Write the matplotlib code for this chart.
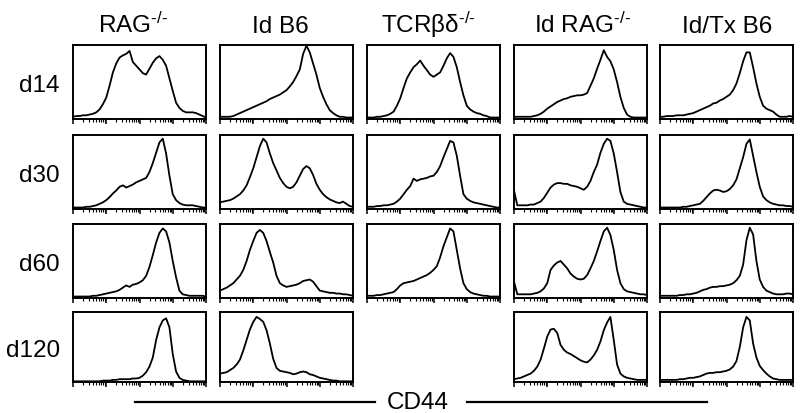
import matplotlib
matplotlib.use("Agg")
import matplotlib.pyplot as plt
from matplotlib.lines import Line2D
from matplotlib.ticker import LogLocator
import numpy as np

plt.rcParams['font.family'] = ['Liberation Sans', 'DejaVu Sans']
plt.rcParams['mathtext.fontset'] = 'custom'
plt.rcParams['mathtext.rm'] = 'Liberation Sans'
plt.rcParams['mathtext.default'] = 'regular'

# === LABELS ===
groups = ['RAG$^{‐/‐}$', 'Id B6', 'TCRβδ$^{‐/‐}$', 'Id RAG$^{‐/‐}$', 'Id/Tx B6']
days = ['d14', 'd30', 'd60', 'd120']
axis_label = 'CD44'

# === HISTOGRAM TRACES (relative counts) ===
rag_d14 = [0.03, 0.04, 0.04, 0.05, 0.05, 0.06, 0.07, 0.09, 0.13, 0.20,
           0.29, 0.45, 0.63, 0.75, 0.83, 0.86, 0.88, 0.92, 0.77, 0.72,
           0.67, 0.62, 0.60, 0.68, 0.76, 0.82, 0.85, 0.80, 0.72, 0.55,
           0.38, 0.22, 0.15, 0.11, 0.09, 0.09, 0.09, 0.08, 0.06, 0.04, 0.02]
idb6_d14 = [0.03, 0.03, 0.03, 0.03, 0.04, 0.06, 0.08, 0.10, 0.12, 0.14,
            0.16, 0.18, 0.20, 0.22, 0.24, 0.27, 0.29, 0.31, 0.33, 0.36,
            0.39, 0.44, 0.50, 0.58, 0.67, 0.88, 0.99, 0.90, 0.75, 0.60,
            0.42, 0.30, 0.20, 0.12, 0.08, 0.05, 0.03, 0.03, 0.02, 0.02, 0.02]
tcr_d14 = [0.02, 0.02, 0.02, 0.03, 0.03, 0.04, 0.05, 0.07, 0.10, 0.18,
           0.28, 0.42, 0.55, 0.63, 0.70, 0.74, 0.79, 0.72, 0.66, 0.60,
           0.57, 0.60, 0.63, 0.72, 0.82, 0.89, 0.84, 0.70, 0.50, 0.32,
           0.18, 0.13, 0.10, 0.08, 0.07, 0.05, 0.04, 0.02, 0.02, 0.02, 0.02]
idrag_d14 = [0.03, 0.03, 0.03, 0.03, 0.03, 0.03, 0.04, 0.05, 0.07, 0.10,
             0.14, 0.17, 0.20, 0.23, 0.25, 0.27, 0.28, 0.30, 0.31, 0.32,
             0.32, 0.33, 0.35, 0.45, 0.55, 0.68, 0.80, 0.93, 0.84, 0.78,
             0.67, 0.50, 0.30, 0.15, 0.06, 0.03, 0.02, 0.02, 0.02, 0.02, 0.02]
idtx_d14 = [0.03, 0.03, 0.04, 0.04, 0.04, 0.05, 0.05, 0.05, 0.06, 0.07,
            0.08, 0.10, 0.12, 0.14, 0.16, 0.18, 0.21, 0.22, 0.25, 0.27,
            0.30, 0.33, 0.39, 0.48, 0.62, 0.78, 0.90, 0.90, 0.70, 0.48,
            0.30, 0.18, 0.14, 0.12, 0.10, 0.06, 0.03, 0.03, 0.03, 0.04, 0.03]

rag_d30 = [0.02, 0.02, 0.02, 0.02, 0.03, 0.03, 0.04, 0.05, 0.07, 0.09,
           0.12, 0.16, 0.21, 0.25, 0.30, 0.32, 0.29, 0.31, 0.33, 0.36,
           0.38, 0.40, 0.42, 0.50, 0.62, 0.76, 0.90, 0.95, 0.75, 0.45,
           0.20, 0.12, 0.08, 0.06, 0.05, 0.05, 0.05, 0.04, 0.03, 0.02, 0.02]
idb6_d30 = [0.09, 0.10, 0.11, 0.12, 0.14, 0.17, 0.20, 0.25, 0.32, 0.43,
            0.55, 0.70, 0.85, 0.95, 0.90, 0.75, 0.62, 0.52, 0.42, 0.35,
            0.30, 0.28, 0.30, 0.36, 0.45, 0.54, 0.58, 0.55, 0.46, 0.34,
            0.26, 0.20, 0.16, 0.13, 0.11, 0.09, 0.08, 0.10, 0.07, 0.04, 0.03]
tcr_d30 = [0.03, 0.03, 0.03, 0.04, 0.04, 0.05, 0.05, 0.06, 0.07, 0.10,
           0.14, 0.20, 0.26, 0.31, 0.41, 0.38, 0.40, 0.41, 0.42, 0.44,
           0.45, 0.50, 0.58, 0.70, 0.81, 0.92, 0.90, 0.72, 0.45, 0.20,
           0.14, 0.11, 0.09, 0.08, 0.07, 0.06, 0.05, 0.04, 0.03, 0.02, 0.02]
idrag_d30 = [0.25, 0.05, 0.05, 0.05, 0.05, 0.06, 0.06, 0.08, 0.10, 0.15,
             0.22, 0.29, 0.33, 0.35, 0.35, 0.34, 0.34, 0.32, 0.31, 0.30,
             0.28, 0.26, 0.30, 0.38, 0.50, 0.60, 0.76, 0.88, 0.95, 0.92,
             0.75, 0.50, 0.23, 0.10, 0.07, 0.06, 0.05, 0.04, 0.03, 0.02, 0.02]
idtx_d30 = [0.02, 0.02, 0.02, 0.02, 0.02, 0.02, 0.02, 0.03, 0.03, 0.04,
            0.05, 0.06, 0.07, 0.11, 0.16, 0.21, 0.25, 0.26, 0.25, 0.23,
            0.24, 0.27, 0.32, 0.40, 0.55, 0.70, 0.88, 0.94, 0.72, 0.50,
            0.30, 0.17, 0.12, 0.09, 0.07, 0.06, 0.05, 0.05, 0.04, 0.04, 0.03]

rag_d60 = [0.02, 0.02, 0.02, 0.02, 0.02, 0.02, 0.03, 0.03, 0.04, 0.05,
           0.06, 0.07, 0.08, 0.09, 0.11, 0.14, 0.17, 0.15, 0.18, 0.19,
           0.21, 0.24, 0.30, 0.42, 0.58, 0.75, 0.88, 0.94, 0.90, 0.75,
           0.50, 0.28, 0.10, 0.05, 0.04, 0.03, 0.03, 0.03, 0.03, 0.03, 0.02]
idb6_d60 = [0.10, 0.12, 0.14, 0.17, 0.20, 0.25, 0.30, 0.38, 0.50, 0.65,
            0.77, 0.88, 0.92, 0.88, 0.77, 0.62, 0.48, 0.30, 0.20, 0.17,
            0.15, 0.16, 0.17, 0.18, 0.20, 0.23, 0.24, 0.25, 0.22, 0.16,
            0.10, 0.09, 0.08, 0.07, 0.07, 0.06, 0.06, 0.05, 0.05, 0.04, 0.03]
tcr_d60 = [0.03, 0.03, 0.03, 0.04, 0.04, 0.05, 0.06, 0.07, 0.08, 0.12,
           0.17, 0.20, 0.21, 0.22, 0.23, 0.25, 0.27, 0.29, 0.31, 0.34,
           0.38, 0.43, 0.55, 0.70, 0.82, 0.94, 0.90, 0.65, 0.40, 0.20,
           0.12, 0.08, 0.06, 0.05, 0.04, 0.03, 0.03, 0.02, 0.02, 0.02, 0.02]
idrag_d60 = [0.22, 0.05, 0.05, 0.05, 0.05, 0.05, 0.06, 0.07, 0.09, 0.13,
             0.20, 0.38, 0.44, 0.48, 0.50, 0.45, 0.40, 0.33, 0.29, 0.26,
             0.25, 0.26, 0.31, 0.40, 0.50, 0.63, 0.77, 0.90, 0.95, 0.85,
             0.65, 0.38, 0.20, 0.12, 0.09, 0.08, 0.07, 0.06, 0.05, 0.05, 0.04]
idtx_d60 = [0.03, 0.03, 0.03, 0.03, 0.03, 0.03, 0.04, 0.04, 0.05, 0.05,
            0.06, 0.07, 0.09, 0.11, 0.12, 0.14, 0.15, 0.15, 0.16, 0.16,
            0.17, 0.18, 0.20, 0.24, 0.30, 0.45, 0.78, 0.95, 0.86, 0.50,
            0.25, 0.15, 0.10, 0.08, 0.06, 0.05, 0.05, 0.05, 0.06, 0.06, 0.05]

rag_d120 = [0.01, 0.01, 0.01, 0.01, 0.01, 0.01, 0.01, 0.01, 0.01, 0.02,
            0.02, 0.02, 0.03, 0.03, 0.04, 0.04, 0.04, 0.04, 0.05, 0.05,
            0.06, 0.09, 0.14, 0.22, 0.35, 0.60, 0.78, 0.88, 0.91, 0.78,
            0.40, 0.15, 0.06, 0.03, 0.02, 0.01, 0.01, 0.01, 0.01, 0.01, 0.01]
idb6_d120 = [0.12, 0.13, 0.14, 0.17, 0.20, 0.25, 0.32, 0.45, 0.60, 0.75,
             0.86, 0.93, 0.90, 0.86, 0.74, 0.55, 0.33, 0.20, 0.16, 0.15,
             0.14, 0.13, 0.11, 0.12, 0.14, 0.15, 0.14, 0.11, 0.10, 0.08,
             0.06, 0.05, 0.04, 0.03, 0.02, 0.02, 0.01, 0.01, 0.01, 0.01, 0.01]
idrag_d120 = [0.04, 0.05, 0.06, 0.08, 0.10, 0.12, 0.16, 0.22, 0.32, 0.48,
              0.65, 0.75, 0.76, 0.70, 0.53, 0.46, 0.42, 0.40, 0.37, 0.34,
              0.31, 0.29, 0.28, 0.32, 0.38, 0.46, 0.58, 0.74, 0.85, 0.93,
              0.60, 0.25, 0.12, 0.08, 0.06, 0.05, 0.04, 0.03, 0.03, 0.03, 0.03]
idtx_d120 = [0.03, 0.03, 0.03, 0.03, 0.03, 0.03, 0.04, 0.04, 0.05, 0.06,
             0.06, 0.07, 0.08, 0.10, 0.12, 0.13, 0.13, 0.14, 0.14, 0.15,
             0.16, 0.18, 0.22, 0.30, 0.50, 0.78, 0.93, 0.88, 0.55, 0.35,
             0.23, 0.17, 0.12, 0.08, 0.05, 0.04, 0.03, 0.03, 0.03, 0.03, 0.03]

traces = [
    [rag_d14, idb6_d14, tcr_d14, idrag_d14, idtx_d14],
    [rag_d30, idb6_d30, tcr_d30, idrag_d30, idtx_d30],
    [rag_d60, idb6_d60, tcr_d60, idrag_d60, idtx_d60],
    [rag_d120, idb6_d120, None, idrag_d120, idtx_d120],
]

# === LAYOUT (pixels on an 800x414 canvas) ===
W, H = 800, 414
fig = plt.figure(figsize=(W / 100, H / 100), dpi=100)
fig.patch.set_facecolor('white')

col_left = [73, 220, 367, 514, 660]
col_w = 133
row_top = [46, 136, 225, 313]
row_h = [74, 74, 74, 70]
header_x = [133, 280, 428, 582, 727]


def fx(px):
    return px / W


def fy(py):
    return 1 - py / H


for r, row in enumerate(traces):
    for c, vals in enumerate(row):
        if vals is None:
            continue
        ax = fig.add_axes([fx(col_left[c]), fy(row_top[r] + row_h[r]),
                           col_w / W, row_h[r] / H])
        bins = np.logspace(0, 4, len(vals))
        ax.plot(bins, vals, color='black', linewidth=1.3)
        ax.set_xscale('log')
        ax.set_xlim(1, 1e4)
        ax.set_ylim(0, 1.0)
        ax.set_yticks([])
        # decade ticks plus the in-between log ticks, like the FACS log axis
        ax.xaxis.set_major_locator(LogLocator(base=10, numticks=10))
        ax.xaxis.set_minor_locator(LogLocator(base=10, subs=np.arange(2, 10),
                                              numticks=100))
        ax.tick_params(axis='x', which='major', direction='out', length=3.5,
                       width=1.1, labelbottom=False)
        ax.tick_params(axis='x', which='minor', direction='out', length=2.0,
                       width=0.8, labelbottom=False)
        for s in ax.spines.values():
            s.set_linewidth(1.4)

# column headers
for c, name in enumerate(groups):
    fig.text(fx(header_x[c]), fy(33), name, ha='center', va='baseline',
             fontsize=17.5)

# row labels
for r, d in enumerate(days):
    yc = row_top[r] + row_h[r] / 2 + 9
    fig.text(fx(60), fy(yc), d, ha='right', va='baseline', fontsize=17.5)

# CD44 axis label with rules either side
fig.text(fx(418), fy(409), axis_label, ha='center', va='baseline',
         fontsize=17.5)
fig.add_artist(Line2D([fx(135), fx(375)], [fy(403), fy(403)],
                      color='black', linewidth=1.6))
fig.add_artist(Line2D([fx(467), fx(707)], [fy(403), fy(403)],
                      color='black', linewidth=1.6))

fig.savefig('out.png', dpi=100, facecolor='white')
